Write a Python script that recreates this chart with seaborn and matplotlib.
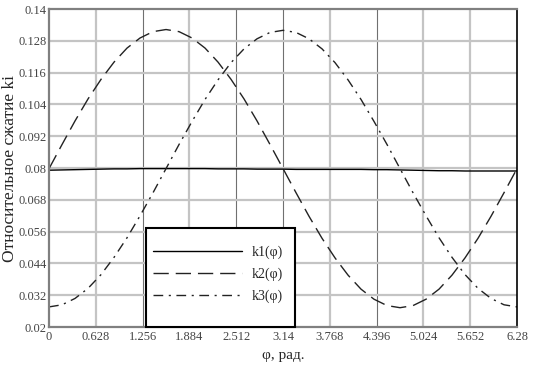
import numpy as np
import pandas as pd
import seaborn as sns
from matplotlib import pyplot as plt
from matplotlib.patches import Rectangle

# --- DATA --- (10 degree steps)
phi = np.linspace(0, 6.28, 37)

k1 = [0.0792, 0.0793, 0.0794, 0.0795, 0.0796, 0.0797, 0.0797, 0.0798, 0.0798,
      0.0798, 0.0798, 0.0798, 0.0798, 0.0797, 0.0797, 0.0797, 0.0796, 0.0796,
      0.0796, 0.0795, 0.0795, 0.0795, 0.0795, 0.0795, 0.0795, 0.0794, 0.0794,
      0.0793, 0.0792, 0.0791, 0.0790, 0.0790, 0.0789, 0.0789, 0.0789, 0.0789,
      0.0789]

k2 = [0.0798, 0.0889, 0.0978, 0.1061, 0.1135, 0.1200, 0.1253, 0.1291, 0.1315,
      0.1323, 0.1315, 0.1291, 0.1253, 0.1200, 0.1135, 0.1061, 0.0978, 0.0889,
      0.0798, 0.0707, 0.0618, 0.0535, 0.0461, 0.0396, 0.0343, 0.0305, 0.0281,
      0.0273, 0.0281, 0.0305, 0.0343, 0.0396, 0.0461, 0.0535, 0.0618, 0.0707,
      0.0798]

k3 = [0.0276, 0.0284, 0.0308, 0.0346, 0.0398, 0.0463, 0.0537, 0.0620, 0.0707,
      0.0798, 0.0889, 0.0976, 0.1059, 0.1133, 0.1198, 0.1250, 0.1288, 0.1312,
      0.1320, 0.1312, 0.1288, 0.1250, 0.1198, 0.1133, 0.1059, 0.0976, 0.0889,
      0.0798, 0.0707, 0.0620, 0.0537, 0.0463, 0.0398, 0.0346, 0.0308, 0.0284,
      0.0276]

x_ticks = [0, 0.628, 1.256, 1.884, 2.512, 3.14, 3.768, 4.396, 5.024, 5.652, 6.28]
x_labels = ["0", "0.628", "1.256", "1.884", "2.512", "3.14", "3.768", "4.396",
            "5.024", "5.652", "6.28"]
y_ticks = [0.02, 0.032, 0.044, 0.056, 0.068, 0.08, 0.092, 0.104, 0.116, 0.128, 0.14]
y_labels = ["0.02", "0.032", "0.044", "0.056", "0.068", "0.08", "0.092", "0.104",
            "0.116", "0.128", "0.14"]

df = pd.DataFrame({"phi": phi, "k1": k1, "k2": k2, "k3": k3})

# --- PLOT ---
sns.set_style("white")
plt.rcParams['font.family'] = ['Liberation Serif', 'DejaVu Serif']

fig = plt.figure(figsize=(5.33, 3.65), dpi=100)
ax = fig.add_axes([0.092, 0.104, 0.878, 0.871])

# grid (some lines look darker/thinner in the reference)
dark_x = [1.256, 2.512, 3.14, 4.396]
for xv in x_ticks[1:-1]:
    if xv in dark_x:
        ax.axvline(xv, color='#707070', lw=0.8, zorder=0)
    else:
        ax.axvline(xv, color='#c4c4c4', lw=1.6, zorder=0)
for yv in y_ticks[1:-1]:
    ax.axhline(yv, color='#c4c4c4', lw=1.6, zorder=0)

sns.lineplot(data=df, x="phi", y="k1", ax=ax, color='black', lw=1.0, label="k1(\u03c6)")
sns.lineplot(data=df, x="phi", y="k2", ax=ax, color='#222222', lw=1.0,
             label="k2(\u03c6)").lines[-1].set_dashes((11, 5))
sns.lineplot(data=df, x="phi", y="k3", ax=ax, color='#222222', lw=1.0,
             label="k3(\u03c6)").lines[-1].set_dashes((7, 4, 1.5, 4))

ax.set_xlim(0, 6.28)
ax.set_ylim(0.02, 0.14)
ax.set_xticks(x_ticks)
ax.set_xticklabels(x_labels)
ax.set_yticks(y_ticks)
ax.set_yticklabels(y_labels)
ax.tick_params(axis='both', labelsize=9, colors='#444444', length=0, pad=3)
ax.tick_params(axis='y', pad=2)

ax.set_xlabel("\u03c6, рад.", fontsize=11, labelpad=4)
ax.set_ylabel("Относительное сжатие ki", fontsize=12.5)
ax.yaxis.set_label_coords(-0.066, 0.5)

for side in ['left', 'top', 'bottom']:
    ax.spines[side].set_color('#808080')
    ax.spines[side].set_linewidth(1.6)
ax.spines['right'].set_color('black')
ax.spines['right'].set_linewidth(1.2)

# legend box drawn separately, entries placed inside it
ax.add_patch(Rectangle((0.207, 0.0), 0.318, 0.31, transform=ax.transAxes,
                       facecolor='white', edgecolor='black', lw=1.5, zorder=4,
                       clip_on=False))
leg = ax.legend(loc='center left', bbox_to_anchor=(0.222, 0.166), fontsize=10,
                handlelength=6.4, handletextpad=0.72, labelspacing=0.6,
                borderpad=0, borderaxespad=0, frameon=False)
leg.set_zorder(5)
for line in leg.get_lines():
    line.set_linewidth(1.0)

fig.savefig("out.png", dpi=100)
